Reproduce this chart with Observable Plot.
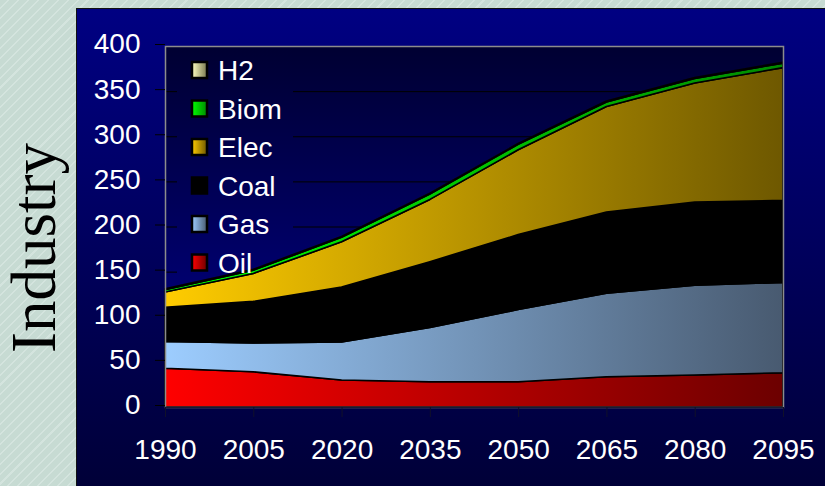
<!DOCTYPE html>
<html>
<head>
<meta charset="utf-8">
<script src="https://cdn.jsdelivr.net/npm/d3@7"></script>
<script src="https://cdn.jsdelivr.net/npm/@observablehq/plot@0.6"></script>
<style>
  html, body { margin:0; padding:0; }
  #wrap { position:relative; width:825px; height:486px; overflow:hidden;
    background: repeating-linear-gradient(135deg, #c7dbd3 0px, #c7dbd3 5.5px, #d4e4de 5.5px, #d4e4de 7px); }
  #panel { position:absolute; left:76px; top:8px; width:760px; height:490px;
    background: linear-gradient(#000082, #000036); border-left:1.5px solid #111; border-top:1.5px solid #111; }
  #wrap svg { position:absolute; left:0; top:0; }
</style>
</head>
<body>
<div id="wrap"><div id="panel"></div></div>
<script>
const years = [1990, 2005, 2020, 2035, 2050, 2065, 2080, 2095];
const series = ["Oil", "Gas", "Coal", "Elec", "Biom", "H2"];
const oil  = [43, 39, 30, 28, 28, 33.5, 35.5, 38];
const gas  = [29.5, 32, 42, 60, 80, 92.5, 99.5, 100];
const coal = [38, 46, 61, 73, 83, 90, 92, 91];
const elec = [17, 31, 50, 69, 94, 117, 132, 147];
const biom = [2.5, 3.5, 5, 6, 6, 5, 5, 5];
const h2   = [1, 1, 1, 1, 1, 1, 1, 1];
const yTicks = [0, 50, 100, 150, 200, 250, 300, 350, 400];
const legendOrder = ["H2", "Biom", "Elec", "Coal", "Gas", "Oil"];
const gradStops = {
  Oil:  ["#ff0000", "#6c0000"],
  Gas:  ["#9dcdff", "#485a70"],
  Coal: ["#000000", "#000000"],
  Elec: ["#ffcc00", "#6e5800"],
  Biom: ["#00ff00", "#008a00"],
  H2:   ["#ffffc0", "#7a7a50"]
};

const valuesBySeries = {Oil: oil, Gas: gas, Coal: coal, Elec: elec, Biom: biom, H2: h2};
const data = [];
for (const s of series) years.forEach((y, i) => data.push({year: y, series: s, value: valuesBySeries[s][i]}));

function defsMark(index, scales, values, dims) {
  const defs = d3.create("svg:defs");
  for (const s of series) {
    const g = defs.append("linearGradient").attr("id", "g-" + s).attr("x1", "0").attr("x2", "1").attr("y1", "0").attr("y2", "0");
    g.append("stop").attr("offset", "0").attr("stop-color", gradStops[s][0]);
    g.append("stop").attr("offset", "1").attr("stop-color", gradStops[s][1]);
  }
  const bg = defs.append("linearGradient").attr("id", "plotbg").attr("gradientUnits", "userSpaceOnUse")
    .attr("x1", 0).attr("x2", 0).attr("y1", dims.marginTop).attr("y2", dims.height - dims.marginBottom);
  bg.append("stop").attr("offset", "0").attr("stop-color", "#000032");
  bg.append("stop").attr("offset", "1").attr("stop-color", "#00008c");
  return defs.node();
}

// legend backdrop (hides grid lines behind the legend, same colour as plot background)
function legendBox(index, scales, values, dims) {
  return d3.create("svg:rect").attr("x", dims.marginLeft + 12).attr("y", dims.marginTop + 1)
    .attr("width", 116).attr("height", 232).attr("fill", "url(#plotbg)").node();
}

const chart = Plot.plot({
  width: 825, height: 486,
  marginLeft: 165, marginRight: 42, marginTop: 46, marginBottom: 79,
  style: {background: "transparent", fontFamily: "'Liberation Sans', Arial, sans-serif", fontSize: "28px"},
  x: {domain: [1990, 2095], ticks: years, tickFormat: d => String(d), label: null},
  y: {domain: [0, 400], ticks: yTicks, label: null},
  color: {domain: series, range: series.map(s => `url(#g-${s})`)},
  marks: [
    defsMark,
    Plot.frame({fill: "url(#plotbg)", stroke: "none"}),
    Plot.gridY(yTicks, {stroke: "#000000", strokeOpacity: 1, strokeWidth: 1}),
    legendBox,
    Plot.areaY(data, {x: "year", y: "value", fill: "series", z: "series", stroke: "black", strokeWidth: 1.6, strokeLinejoin: "round"}),
    Plot.frame({stroke: "#8c8c8c", strokeWidth: 1.5}),
    Plot.ruleY([0], {stroke: "#1a1a34", strokeWidth: 1.5}),
    Plot.axisY(yTicks, {anchor: "left", tickSize: 10, tickPadding: 15, stroke: "#000", fill: "white", fontSize: 28, dy: -2}),
    Plot.axisX(years, {anchor: "bottom", tickSize: 10, tickPadding: 22, stroke: "#10102a", fill: "white", fontSize: 28, tickFormat: d => String(d)})
  ]
});
document.getElementById("wrap").appendChild(chart);

// Legend entries and axis title
const ov = d3.select("#wrap").append("svg").attr("width", 825).attr("height", 486)
  .style("font-family", "'Liberation Sans', Arial, sans-serif");
const ldefs = ov.append("defs");
for (const s of series) {
  const g = ldefs.append("linearGradient").attr("id", "lg-" + s).attr("x1", 0).attr("x2", 1).attr("y1", 0).attr("y2", 0);
  g.append("stop").attr("offset", 0).attr("stop-color", gradStops[s][0]);
  g.append("stop").attr("offset", 1).attr("stop-color", gradStops[s][1]);
}
legendOrder.forEach((s, i) => {
  const base = 80 + i * 38.5;
  ov.append("rect").attr("x", 192).attr("y", base - 18).attr("width", 15).attr("height", 16)
    .attr("fill", `url(#lg-${s})`).attr("stroke", "black").attr("stroke-width", 2.5);
  ov.append("text").attr("x", 218).attr("y", base).attr("fill", "white").attr("font-size", 28).text(s);
});
ov.append("text").attr("transform", "translate(55,248) rotate(-90)").attr("text-anchor", "middle")
  .attr("font-family", "'Liberation Serif', 'Times New Roman', serif").attr("font-size", 63).attr("fill", "black").text("Industry");
</script>
</body>
</html>
